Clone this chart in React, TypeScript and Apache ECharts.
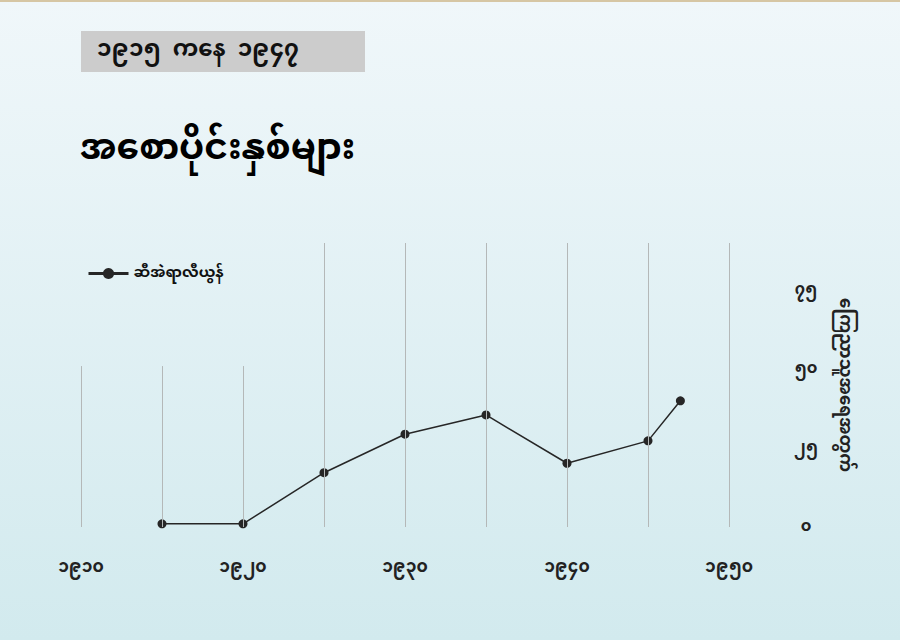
import { useEffect, useRef } from 'react';
import * as echarts from 'echarts';

// data
const years = [1915, 1920, 1925, 1930, 1935, 1940, 1945, 1947];
const values = [1, 1, 17.2, 29.4, 35.5, 20.2, 27.3, 40];

// vertical gridlines (every 5 years) and how high each one reaches
const gridYears = [1910, 1915, 1920, 1925, 1930, 1935, 1940, 1945, 1950];
const gridTops = [51, 51, 51, 90, 90, 90, 90, 90, 90];

const xLabelYears = [1910, 1920, 1930, 1940, 1950];
const xLabelTexts = ['၁၉၁၀', '၁၉၂၀', '၁၉၃၀', '၁၉၄၀', '၁၉၅၀'];
const yTicks = [0, 25, 50, 75];
const yTickTexts = ['၀', '၂၅', '၅၀', '၇၅'];

const seriesName = 'ဆီအဲရာလီယွန်';
const titleText = 'အစောပိုင်းနှစ်များ';
const subtitleText = '၁၉၁၅  ကနေ  ၁၉၄၇';
const yAxisName = 'ကြေညာသူအရေအတွက်';

const font = '"Noto Sans Myanmar", Padauk, "Myanmar Text", "Noto Sans", sans-serif';

const App = () => {
  const chartRef = useRef<HTMLDivElement>(null);

  useEffect(() => {
    if (!chartRef.current) return;
    const chart = echarts.init(chartRef.current, null, { renderer: 'svg' });

    const option = {
      animation: false,
      backgroundColor: new echarts.graphic.LinearGradient(0, 0, 0, 1, [
        { offset: 0, color: '#f0f7fa' },
        { offset: 1, color: '#d2eaee' },
      ]),
      textStyle: { fontFamily: font },
      graphic: [
        { type: 'rect', shape: { x: 0, y: 0, width: 900, height: 2 }, style: { fill: '#d6c6a4' } },
        { type: 'rect', shape: { x: 81, y: 31, width: 284, height: 41 }, style: { fill: '#cccccc' } },
        {
          type: 'text',
          x: 97,
          y: 51,
          style: {
            text: subtitleText,
            fill: '#111',
            font: `bold 23px ${font}`,
            verticalAlign: 'middle',
          },
        },
        {
          type: 'text',
          x: 80,
          y: 150,
          style: {
            text: titleText,
            fill: '#000',
            font: `bold 36px ${font}`,
            verticalAlign: 'middle',
          },
        },
      ],
      legend: {
        left: 82,
        top: 261,
        itemWidth: 40,
        itemHeight: 14,
        itemGap: 10,
        data: [seriesName],
        lineStyle: { width: 3 },
        textStyle: { fontFamily: font, fontSize: 15, fontWeight: 'bold', color: '#111' },
      },
      grid: { left: 81, right: 171, top: 243, bottom: 113 },
      xAxis: {
        type: 'value',
        min: 1910,
        max: 1950,
        interval: 5,
        axisLine: { show: false },
        axisTick: { show: false },
        splitLine: { show: false },
        axisLabel: {
          margin: 32,
          fontFamily: font,
          fontSize: 17,
          fontWeight: 'bold',
          color: '#222',
          formatter: (v: number) => {
            const i = xLabelYears.indexOf(v);
            return i >= 0 ? xLabelTexts[i] : '';
          },
        },
      },
      yAxis: {
        type: 'value',
        position: 'right',
        min: 0,
        max: 90,
        interval: 25,
        axisLine: { show: false },
        axisTick: { show: false },
        splitLine: { show: false },
        axisLabel: {
          margin: 77,
          align: 'center',
          padding: [8, 0, 0, 0],
          fontFamily: font,
          fontSize: 16,
          fontWeight: 'bold',
          color: '#222',
          formatter: (v: number) => {
            const i = yTicks.indexOf(v);
            return i >= 0 ? yTickTexts[i] : '';
          },
        },
        name: yAxisName,
        nameLocation: 'middle',
        nameGap: 106,
        nameRotate: -90,
        nameTextStyle: { fontFamily: font, fontSize: 17, fontWeight: 'bold', color: '#222' },
      },
      series: [
        {
          // carrier for the gridlines, drawn under the data line
          type: 'line',
          name: 'grid',
          z: 1,
          silent: true,
          data: years.map((y, i) => [y, values[i]]),
          showSymbol: false,
          lineStyle: { opacity: 0 },
          markLine: {
            silent: true,
            symbol: ['none', 'none'],
            label: { show: false },
            lineStyle: { color: '#b4b8b8', width: 1, type: 'solid' },
            data: gridYears.map((g, i) => [{ coord: [g, 0] }, { coord: [g, gridTops[i]] }]),
          },
        },
        {
          type: 'line',
          name: seriesName,
          z: 3,
          data: years.map((y, i) => [y, values[i]]),
          symbol: 'circle',
          symbolSize: 9,
          lineStyle: { color: '#262626', width: 1.5 },
          itemStyle: { color: '#262626' },
        },
      ],
    };

    chart.setOption(option);

    return () => {
      chart.dispose();
    };
  }, []);

  return (
    <div
      ref={chartRef}
      style={{ position: 'fixed', left: 0, top: 0, width: '900px', height: '640px' }}
    />
  );
};

export default App;
